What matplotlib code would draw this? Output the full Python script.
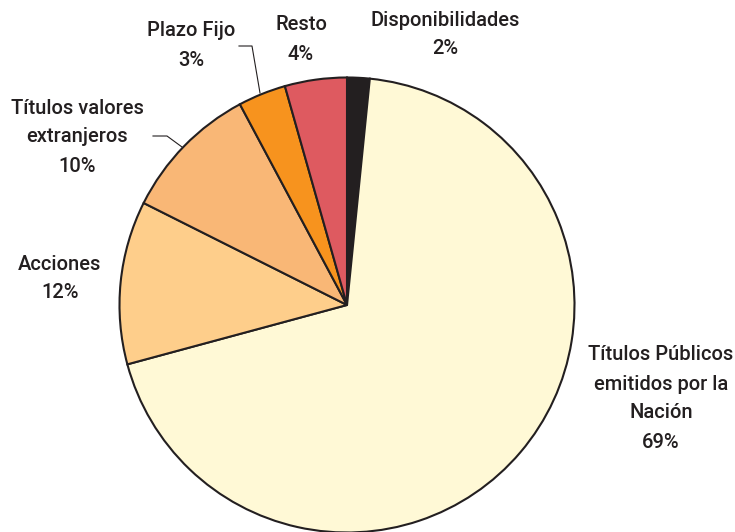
import matplotlib
matplotlib.use("Agg")
import matplotlib.pyplot as plt

categories = ["Disponibilidades", "Títulos Públicos\nemitidos por la\nNación", "Acciones",
              "Títulos valores\nextranjeros", "Plazo Fijo", "Resto"]
shares = [1.6, 69.2, 11.6, 9.8, 3.4, 4.4]      # slice sizes as drawn
pct_labels = [2, 69, 12, 10, 3, 4]             # rounded percentages shown
colors = ["#231F20", "#FFF9D6", "#FECE8B", "#F9B776", "#F7931E", "#DE5A60"]

# label anchor positions (pixels, top-left origin)
label_pos = [(445, 20), (661, 355), (60, 264), (77, 108), (191, 31), (301, 25)]

W, H = 735, 532
fig = plt.figure(figsize=(W / 100, H / 100), dpi=100)
ax = fig.add_axes([0, 0, 1, 1])

cx, cy, r = 347, H - 305, 227.5
ax.pie(shares, colors=colors, startangle=90, counterclock=False, radius=r, center=(cx, cy),
       wedgeprops=dict(edgecolor="#231F20", linewidth=1.5), frame=True)
ax.set_xlim(0, W)
ax.set_ylim(0, H)
ax.axis("off")

font = dict(family=["Roboto", "DejaVu Sans"], fontsize=14.5, color="#231F20", fontweight="medium")
for cat, val, (x, y) in zip(categories, pct_labels, label_pos):
    lines = cat.split("\n") + [f"{val}%"]
    for i, line in enumerate(lines):
        ax.text(x, H - (y + 29 * i), line, ha="center", va="center", **font)

# leader lines
ax.plot([239, 252, 260], [H - 46, H - 46, H - 93], color="#231F20", lw=0.8)
ax.plot([153, 167, 182], [H - 136, H - 136, H - 147], color="#231F20", lw=0.8)

fig.savefig("out.png", dpi=100)
